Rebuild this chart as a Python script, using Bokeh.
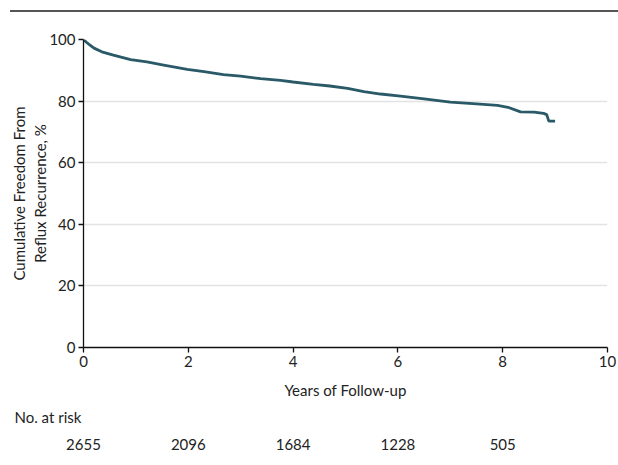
from bokeh.plotting import figure
from bokeh.models import Range1d, FixedTicker, LinearAxis, Title
from bokeh.embed import file_html
from bokeh.resources import INLINE

years = [0, 0.05, 0.1, 0.2, 0.35, 0.57, 0.9, 1.21, 1.53, 1.98, 2.3, 2.67, 3.0, 3.38,
         3.76, 4.0, 4.39, 4.7, 5.04, 5.35, 5.67, 6.05, 6.5, 7.0, 7.5, 7.9, 8.1, 8.34,
         8.6, 8.78, 8.84, 8.88, 9.0]
freedom = [100, 99.2, 98.5, 97.2, 96.0, 94.9, 93.5, 92.7, 91.7, 90.3, 89.6, 88.6, 88.1, 87.3,
           86.7, 86.2, 85.4, 84.9, 84.1, 83.1, 82.3, 81.6, 80.7, 79.7, 79.1, 78.6, 78.0, 76.5,
           76.4, 76.0, 75.6, 73.5, 73.5]
risk_years = [0, 2, 4, 6, 8]
risk_counts = ["2655", "2096", "1684", "1228", "505"]
x_ticks = [0, 2, 4, 6, 8, 10]
y_ticks = [0, 20, 40, 60, 80, 100]

FONT = "Lato"
TXT = "#222222"
FS = "15px"

p = figure(width=618, height=452, output_backend="svg", toolbar_location=None,
           x_range=Range1d(0, 10), y_range=Range1d(0, 100),
           min_border_left=83, min_border_right=11, min_border_top=27, min_border_bottom=117)
p.styles = {"margin-top": "10px", "padding-top": "2px",
            "background": "linear-gradient(#555555, #555555) no-repeat 10px 0px / 608px 2px"}
p.outline_line_color = None
p.xgrid.grid_line_color = None
p.ygrid.grid_line_color = "#e3e3e3"
p.ygrid.grid_line_width = 1.5
p.xaxis.ticker = FixedTicker(ticks=x_ticks)
p.yaxis.ticker = FixedTicker(ticks=y_ticks)
for ax in (p.xaxis, p.yaxis):
    ax.axis_line_color = "#111111"
    ax.axis_line_width = 1.3
    ax.major_tick_line_color = "#111111"
    ax.major_tick_line_width = 1.3
    ax.major_tick_out = 5
    ax.major_tick_in = 0
    ax.minor_tick_line_color = None
    ax.major_label_text_font = FONT
    ax.major_label_text_font_size = FS
    ax.major_label_text_color = TXT
    ax.axis_label_text_font = FONT
    ax.axis_label_text_font_size = FS
    ax.axis_label_text_color = TXT
    ax.axis_label_text_font_style = "normal"
p.xaxis.major_label_standoff = 3
p.yaxis.major_label_standoff = 3
p.xaxis.axis_label = "Years of Follow-up"
p.xaxis.axis_label_standoff = 11
p.yaxis.axis_label = "Cumulative Freedom From\nReflux Recurrence, %"
p.yaxis.axis_label_standoff = -3

p.line(years, freedom, line_color="#2a5a68", line_width=2.8)

risk_title = Title(text="No. at risk", align="left", offset=-69, text_font=FONT,
                   text_font_size=FS, text_color=TXT, text_font_style="normal",
                   standoff=9)
p.add_layout(risk_title, "below")

risk_axis = LinearAxis(ticker=FixedTicker(ticks=risk_years),
                       major_label_overrides={y: c for y, c in zip(risk_years, risk_counts)},
                       axis_line_color=None, major_tick_line_color=None,
                       minor_tick_line_color=None, major_tick_out=0, major_tick_in=0,
                       major_label_standoff=8, major_label_text_font=FONT,
                       major_label_text_font_size=FS, major_label_text_color=TXT)
p.add_layout(risk_axis, "below")

open("out.html", "w").write(file_html(p, INLINE))
